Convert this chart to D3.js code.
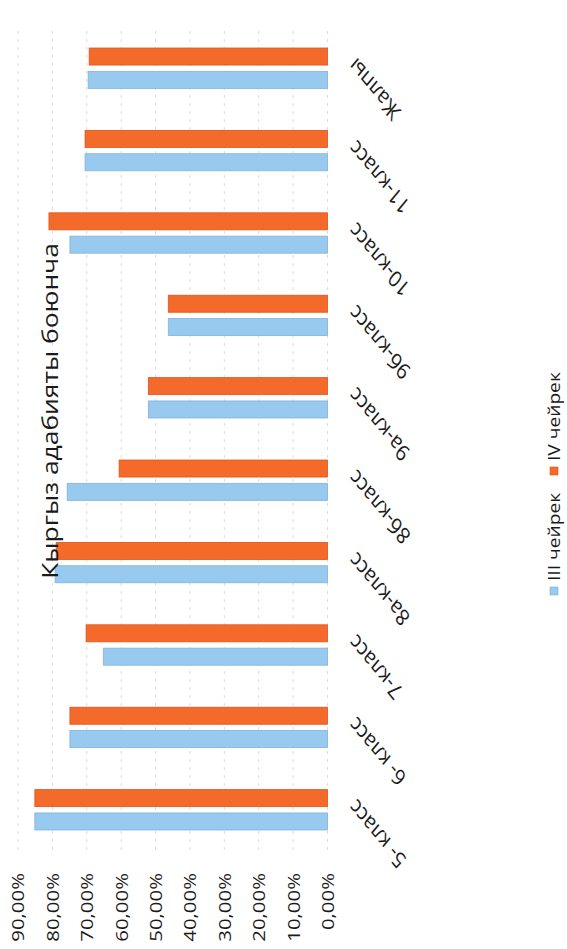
<!DOCTYPE html>
<html>
<head>
<meta charset="utf-8">
<script src="https://cdn.jsdelivr.net/npm/d3@7"></script>
<style>
  html, body { margin: 0; padding: 0; background: #fff; }
  svg { display: block; }
  text { font-family: "Open Sans", "DejaVu Sans", sans-serif; fill: #1a1a1a; }
</style>
</head>
<body>
<svg id="chart" width="567" height="949"></svg>
<script>
// ---- data ----
const categories = ["5- класс", "6- класс", "7-класс", "8а-класс", "8б-класс", "9а-класс", "9б-класс", "10-класс", "11-класс", "Жалпы"];
const seriesNames = ["III чейрек", "IV чейрек"];
const q3Values = [0.851, 0.749, 0.652, 0.792, 0.757, 0.521, 0.463, 0.749, 0.705, 0.696];
const q4Values = [0.851, 0.749, 0.702, 0.789, 0.606, 0.521, 0.463, 0.810, 0.705, 0.693];
const tickValues = [0, 0.1, 0.2, 0.3, 0.4, 0.5, 0.6, 0.7, 0.8, 0.9];
const titleText = "Кыргыз адабияты боюнча";

const colors = { "III чейрек": "#97caee", "IV чейрек": "#f36a2a" };
const strokes = { "III чейрек": "#80b2dc", "IV чейрек": "#e0541a" };
const STRETCH = 1.2; // photo stretch along the reading direction

const svg = d3.select("#chart");
// chart drawn as a column chart, then rotated -90deg (photo is turned)
const g = svg.append("g").attr("transform", "translate(0,949) rotate(-90)");

const x0 = d3.scaleBand().domain(categories).range([98, 922]).paddingInner(0.51).paddingOuter(0.255);
const x1 = d3.scaleBand().domain(seriesNames).range([0, x0.bandwidth()]).paddingInner(0.27);
const y = d3.scaleLinear().domain([0, 0.9]).range([327.5, 18]);

const locale = d3.formatLocale({ decimal: ",", thousands: " ", grouping: [3], currency: ["", ""], percent: "%" });
const fmt = locale.format(".2%");

// gridlines
g.append("g").selectAll("line").data(tickValues).join("line")
  .attr("x1", 99).attr("x2", 920)
  .attr("y1", d => y(d)).attr("y2", d => y(d))
  .attr("stroke", "#dcdcdc").attr("stroke-width", 1)
  .attr("stroke-dasharray", "3,5");

// bars
const rows = categories.map((c, i) => ({ cat: c, vals: [{ s: seriesNames[0], v: q3Values[i] }, { s: seriesNames[1], v: q4Values[i] }] }));
const grp = g.append("g").selectAll("g").data(rows).join("g")
  .attr("transform", d => `translate(${x0(d.cat)},0)`);
grp.selectAll("rect").data(d => d.vals).join("rect")
  .attr("x", d => x1(d.s))
  .attr("width", x1.bandwidth())
  .attr("y", d => y(d.v))
  .attr("height", d => y(0) - y(d.v))
  .attr("fill", d => colors[d.s])
  .attr("stroke", d => strokes[d.s])
  .attr("stroke-width", 0.8);

// value axis (labels only)
const yAxis = g.append("g").attr("transform", "translate(76,0)")
  .call(d3.axisLeft(y).tickValues(tickValues).tickFormat(fmt).tickSize(0).tickPadding(0));
yAxis.select(".domain").remove();
yAxis.selectAll("text")
  .attr("x", 0).attr("dy", "0.35em")
  .attr("text-anchor", "end")
  .attr("transform", `scale(${STRETCH},1)`)
  .style("font-size", "17px").style("font-family", "'Open Sans', sans-serif").attr("fill", "#1a1a1a");

// category axis
const xAxis = g.append("g").attr("transform", "translate(0,348)")
  .call(d3.axisBottom(x0).tickSize(0).tickPadding(0));
xAxis.select(".domain").remove();
xAxis.selectAll(".tick text")
  .attr("x", null).attr("y", null).attr("dy", "0.35em")
  .attr("text-anchor", "end")
  .attr("transform", `translate(6,4) scale(${STRETCH},1) rotate(-45)`)
  .style("font-size", "19px").style("font-family", "'Open Sans', sans-serif").attr("fill", "#1a1a1a");

// title
g.append("text")
  .attr("transform", `translate(538,58) scale(${STRETCH},1)`)
  .attr("text-anchor", "middle")
  .style("font-size", "22px")
  .text(titleText);

// legend
const legendPos = [{ s: seriesNames[0], u: 354 }, { s: seriesNames[1], u: 474 }];
const leg = g.append("g").selectAll("g").data(legendPos).join("g")
  .attr("transform", d => `translate(${d.u},554)`);
leg.append("rect").attr("x", 0).attr("y", -4).attr("width", 8).attr("height", 8)
  .attr("fill", d => colors[d.s]).attr("stroke", d => strokes[d.s]).attr("stroke-width", 0.6);
leg.append("text")
  .attr("transform", `translate(14,0) scale(${STRETCH},1)`)
  .attr("dy", "0.35em")
  .style("font-size", "16px")
  .text(d => d.s);
</script>
</body>
</html>
